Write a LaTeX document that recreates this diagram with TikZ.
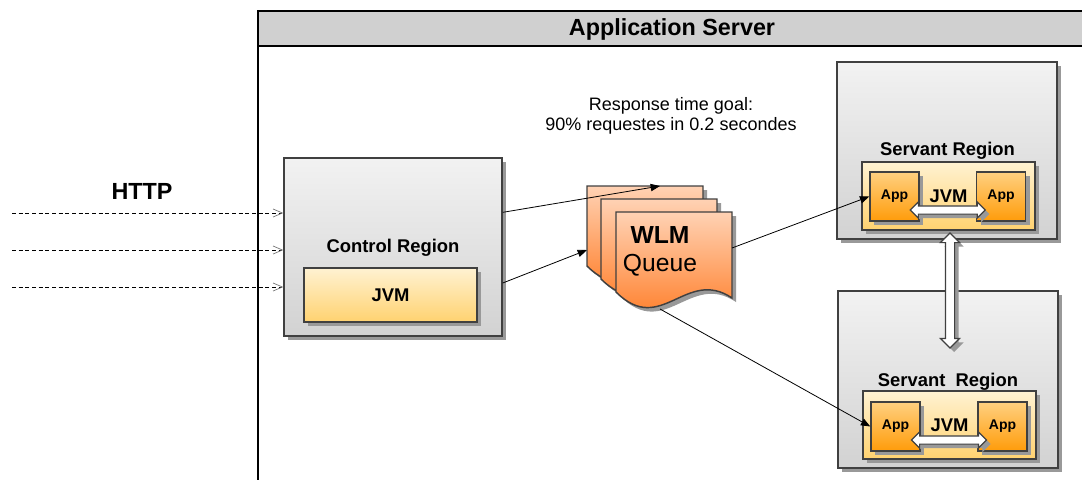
\documentclass[tikz,border=0pt]{standalone}
\usepackage{fontspec}
\setmainfont{Liberation Sans}
\usepackage{tikz}
\usetikzlibrary{arrows.meta,shapes.arrows,shadows,calc}

\definecolor{boxline}{HTML}{404040}
\definecolor{regtop}{HTML}{F2F2F2}
\definecolor{regbot}{HTML}{D2D2D2}
\definecolor{jvmtop}{HTML}{FFF2D2}
\definecolor{jvmbot}{HTML}{FFD270}
\definecolor{apptop}{HTML}{FFD080}
\definecolor{appbot}{HTML}{FF9C0A}
\definecolor{pagetop}{HTML}{FFD2B4}
\definecolor{pagebot}{HTML}{FF7012}
\definecolor{hdrgray}{HTML}{D0D0D0}

\newlength\px
\setlength\px{0.75pt}

\begin{document}
\begin{tikzpicture}[x=0.75pt,y=-0.75pt,
    shade/.style={drop shadow={shadow xshift=3pt,shadow yshift=-3pt,fill=black!40,opacity=1}},
    box/.style={shade,draw=boxline,line width=1.1pt,inner sep=0pt},
    region/.style={box,top color=regtop,bottom color=regbot},
    jvm/.style={box,top color=jvmtop,bottom color=jvmbot,minimum width=173\px,
        font=\fontsize{13.8}{16}\selectfont\bfseries},
    app/.style={box,top color=apptop,bottom color=appbot,minimum width=49\px,
        minimum height=49\px,font=\fontsize{10.5}{12}\selectfont\bfseries},
    page/.style={shade,draw=boxline,line width=1.1pt,top color=pagetop,bottom color=pagebot},
    lbl/.style={inner sep=0pt,font=\fontsize{13.8}{16}\selectfont\bfseries},
    hollow/.style={shade,double arrow,draw=boxline,fill=white,line width=0.9pt,inner xsep=0pt},
    link/.style={line width=0.6pt,-{Triangle[length=7pt,width=5.5pt]}},
    http/.style={line width=0.5pt,dash pattern=on 3pt off 2pt,
        -{Straight Barb[length=7pt,width=6pt,color=black!55]}}]
    \useasboundingbox (0,0) rectangle (1082,479);
    \clip (0,0) rectangle (1082,479);

    % application server frame
    \fill[hdrgray] (258,11) rectangle (1090,46);
    \draw[line width=1.5pt] (258,490) -- (258,11) -- (1090,11);
    \draw[line width=1.5pt] (258,46) -- (1090,46);
    \node[inner sep=0pt,font=\fontsize{17.5}{20}\selectfont\bfseries] (srvtitle) at (672,29) {Application Server};

    \node[inner sep=0pt,font=\fontsize{17.5}{20}\selectfont\bfseries] (http) at (142,191.5) {HTTP};
    \node[inner sep=0pt,align=center,font=\fontsize{13.5}{15}\selectfont] (goal) at (671,116)
        {Response time goal:\\90\% requestes in 0.2 secondes};

    % control region
    \node[region,minimum width=218\px,minimum height=178\px] (ctrl) at (393,247) {};
    \node[lbl,anchor=base] (ctrllbl) at (393,252) {Control Region};
    \node[jvm,minimum height=54\px] (ctrljvm) at (390.5,295) {JVM};

    % wlm queue
    \foreach \qx/\qy/\qn in {587/186/q1,601/199/q2,616/212/q3}{
      \begin{scope}[shift={(\qx,\qy)}]
        \path[page] (0,0) -- (116,0) -- (116,86) .. controls (70,55) and (45,125) .. (0,80) -- cycle;
        \coordinate (\qn) at (0,0);
      \end{scope}
    }
    \node[inner sep=0pt,anchor=base,font=\fontsize{18.5}{20}\selectfont\bfseries] (wlm) at (660,243) {WLM};
    \node[inner sep=0pt,anchor=base,font=\fontsize{18.5}{20}\selectfont] (queue) at (660,271) {Queue};

    % servant regions
    \node[region,minimum width=220\px,minimum height=177\px] (srv1) at (947,150.5) {};
    \node[lbl,anchor=base] (srv1lbl) at (947.5,155) {Servant Region};
    \node[jvm,minimum height=68\px] (jvm1) at (948.5,196) {JVM};
    \node[app] (app1a) at (894.5,196.5) {App};
    \node[app] (app1b) at (1001,196.5) {App};
    \node[hollow,minimum height=75\px,inner ysep=3.5\px,double arrow head extend=4\px]
        (hl1) at ($(app1a.east)!0.5!(app1b.west)+(0,13.5)$) {};

    \node[region,minimum width=220\px,minimum height=177\px] (srv2) at (948,379.5) {};
    \node[lbl,anchor=base] (srv2lbl) at (948,386) {Servant\ \ Region};
    \node[jvm,minimum height=68\px] (jvm2) at (949.5,425) {JVM};
    \node[app] (app2a) at (895.5,426.5) {App};
    \node[app] (app2b) at (1002.5,426.5) {App};
    \node[hollow,minimum height=75\px,inner ysep=3.5\px,double arrow head extend=4\px]
        (hl2) at ($(app2a.east)!0.5!(app2b.west)+(0,13.5)$) {};

    \node[hollow,rotate=90,minimum height=115\px,inner ysep=4\px,double arrow head extend=5\px]
        (vl) at (950,290.5) {};

    % connectors
    \coordinate (h1) at (12,213);
    \coordinate (h2) at (12,250);
    \coordinate (h3) at (12,287);
    \foreach \h in {h1,h2,h3}
      \draw[http] (\h) -- (\h -| ctrl.west);

    \draw[link] ([yshift=26pt]ctrl.east) -- ($(q1)+(73,0)$);
    \draw[link] ([yshift=-27pt]ctrl.east) -- ($(q1)+(0,64)$);
    \draw[link] ($(q3)+(116,36)$) -- (app1a.west);
    \draw[link] ($(q3)+(44,97)$) -- (app2a.west);
\end{tikzpicture}
\end{document}
